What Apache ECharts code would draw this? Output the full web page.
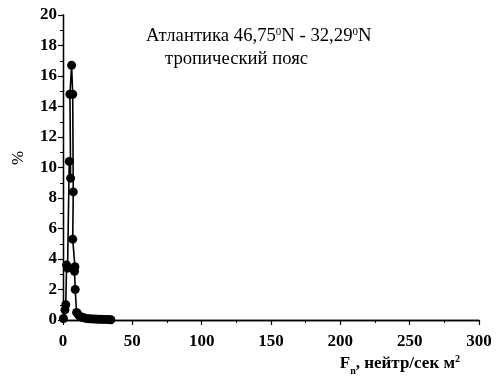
<!DOCTYPE html>
<html>
<head>
<meta charset="utf-8">
<script src="https://cdn.jsdelivr.net/npm/echarts@6/dist/echarts.min.js"></script>
<style>
  html, body { margin: 0; padding: 0; background: #fff; }
  #chart { width: 496px; height: 387px; }
</style>
</head>
<body>
<div id="chart"></div>
<script>
// Neutron flux distribution, path of measured points (flux, percent)
const fluxValues = [0.3, 1.4, 2.0, 2.6, 3.3, 4.5, 5.5, 5.0, 6.2, 7.0, 7.4, 7.0, 8.6, 8.3, 8.8, 9.8, 11, 12, 13.5, 15, 17, 19, 21, 23, 25, 27, 29, 31, 33, 34.5];
const percentValues = [0.1, 0.66, 1.0, 3.6, 3.4, 10.4, 9.3, 14.8, 16.7, 14.8, 8.4, 5.3, 3.5, 3.2, 2.0, 0.5, 0.35, 0.25, 0.18, 0.14, 0.1, 0.08, 0.07, 0.06, 0.05, 0.05, 0.04, 0.04, 0.03, 0.02];

const xTicks = { min: 0, max: 300, interval: 50 };
const yTicks = { min: 0, max: 20, interval: 2 };

const titleLine1 = 'Атлантика 46,75';
const titleLine2 = 'тропический пояс';

const points = fluxValues.map((x, i) => [x, percentValues[i]]);

const chart = echarts.init(document.getElementById('chart'), null, { renderer: 'canvas' });

const labelFont = { fontFamily: 'Liberation Serif', fontWeight: 'bold', fontSize: 17, color: '#000' };
const axisLine = { show: true, lineStyle: { color: '#000', width: 1.3 } };

chart.setOption({
  animation: false,
  backgroundColor: '#fff',
  grid: { left: 63, right: 17, top: 15, bottom: 67 },
  xAxis: [{
    type: 'value', min: xTicks.min, max: xTicks.max, interval: xTicks.interval,
    axisLine: axisLine,
    axisTick: { show: true, length: 5, lineStyle: { color: '#000', width: 1.2 } },
    minorTick: { show: true, splitNumber: 2, length: 3, lineStyle: { color: '#000', width: 1 } },
    splitLine: { show: false },
    axisLabel: Object.assign({ margin: 13 }, labelFont)
  }, {
    type: 'value', position: 'top', min: xTicks.min, max: xTicks.max,
    axisLine: axisLine, axisTick: { show: false }, axisLabel: { show: false }, splitLine: { show: false }
  }],
  yAxis: [{
    type: 'value', min: yTicks.min, max: yTicks.max, interval: yTicks.interval,
    axisLine: axisLine,
    axisTick: { show: true, length: 5, lineStyle: { color: '#000', width: 1.2 } },
    minorTick: { show: true, splitNumber: 2, length: 3, lineStyle: { color: '#000', width: 1 } },
    splitLine: { show: false },
    axisLabel: Object.assign({ margin: 6 }, labelFont)
  }, {
    type: 'value', position: 'right', min: yTicks.min, max: yTicks.max,
    axisLine: axisLine, axisTick: { show: false }, axisLabel: { show: false }, splitLine: { show: false }
  }],
  series: [{
    type: 'line',
    data: points,
    symbol: 'circle',
    symbolSize: 9,
    showAllSymbol: true,
    itemStyle: { color: '#000' },
    lineStyle: { color: '#000', width: 1.6 },
    clip: false
  }],
  graphic: [
    {
      type: 'text', left: 146, top: 27,
      style: {
        text: '{a|' + titleLine1 + '}{s|0}{a|N - 32,29}{s|0}{a|N}',
        rich: {
          a: { fontFamily: 'Liberation Serif', fontSize: 18.7, fill: '#000', verticalAlign: 'bottom' },
          s: { fontFamily: 'Liberation Serif', fontSize: 11, fill: '#000', padding: [0, 0, 8, 0], verticalAlign: 'bottom' }
        }
      }
    },
    {
      type: 'text', left: 165, top: 50,
      style: { text: titleLine2, fontFamily: 'Liberation Serif', fontSize: 18.7, fill: '#000' }
    },
    {
      type: 'text', x: 19, y: 158, rotation: Math.PI / 2,
      style: { text: '%', fontFamily: 'Liberation Serif', fontSize: 17, fill: '#000', align: 'center', verticalAlign: 'middle' }
    },
    {
      type: 'text', right: 36, top: 354,
      style: {
        text: '{b|F}{sub|n}{b|, нейтр/сек м}{sup|2}',
        rich: {
          b: { fontFamily: 'Liberation Serif', fontWeight: 'bold', fontSize: 17, fill: '#000', verticalAlign: 'bottom' },
          sub: { fontFamily: 'Liberation Serif', fontWeight: 'bold', fontSize: 10, fill: '#000', padding: [0, 0, -4, 0], verticalAlign: 'bottom' },
          sup: { fontFamily: 'Liberation Serif', fontWeight: 'bold', fontSize: 10, fill: '#000', padding: [0, 0, 8, 0], verticalAlign: 'bottom' }
        }
      }
    }
  ]
});
</script>
</body>
</html>
